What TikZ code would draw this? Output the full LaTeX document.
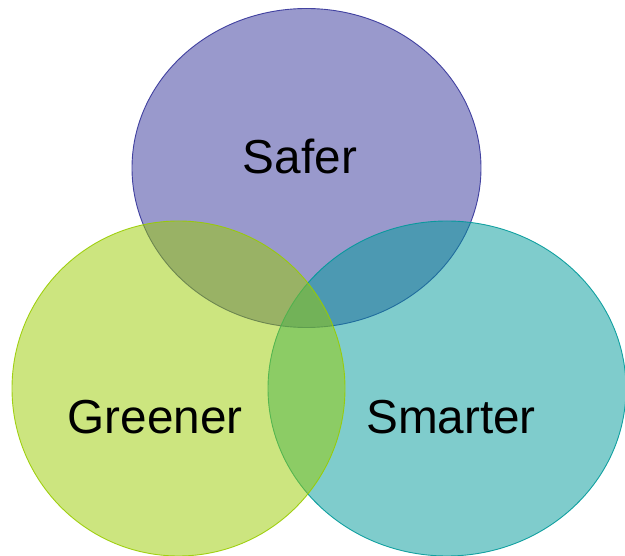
\documentclass[tikz,border=0pt]{standalone}
\usepackage{fontspec}
\setmainfont{Liberation Sans}
\definecolor{cSafer}{HTML}{333399}
\definecolor{cGreen}{HTML}{99CC00}
\definecolor{cTeal}{HTML}{009999}
\begin{document}
\begin{tikzpicture}[x=1pt,y=-1pt,
  blob/.style={fill=#1,fill opacity=0.5,draw=#1,draw opacity=0.9,line width=0.9pt},
  lbl/.style={anchor=base,font=\fontsize{47.7}{57}\selectfont,text=black,inner sep=0pt}]
\useasboundingbox (0,0) rectangle (625,556);
\begin{scope}
\clip (0,0) rectangle (625,556);
\draw[blob=cSafer] (306.5,168) ellipse [x radius=174.5, y radius=159.5];
\draw[blob=cTeal] (447,388.5) ellipse [x radius=179, y radius=167.5];
\draw[blob=cGreen] (178.5,388.5) ellipse [x radius=166.5, y radius=167.5];
\end{scope}
\node[lbl] (safer) at (300,174) {Safer};
\node[lbl] (greener) at (155,434) {Greener};
\node[lbl] (smarter) at (451,434) {Smarter};
\end{tikzpicture}
\end{document}
